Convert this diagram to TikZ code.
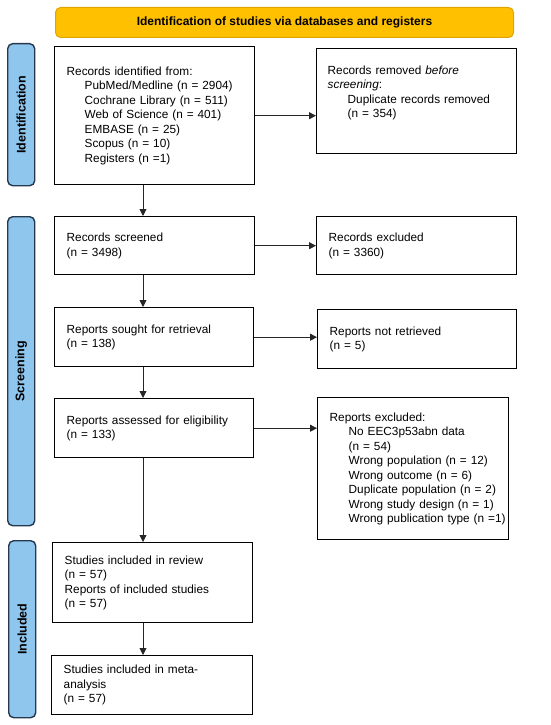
\documentclass[tikz,border=0pt]{standalone}
\usepackage{fontspec}
\setmainfont{Liberation Sans}
\usetikzlibrary{arrows.meta}
\definecolor{hdrfill}{HTML}{FFC000}
\definecolor{hdrdraw}{HTML}{E0A500}
\definecolor{sidefill}{HTML}{8EC6EE}
\definecolor{sidedraw}{HTML}{26384D}
\begin{document}
\begin{tikzpicture}[x=1pt,y=-1pt,
  box/.style={draw=black, line width=1.4pt, rectangle, anchor=north west, align=left,
    inner xsep=12pt, inner ysep=0pt, font=\fontsize{11.8}{14.5}\selectfont},
  sidelab/.style={draw=sidedraw, fill=sidefill, line width=1.4pt, rounded corners=5pt,
    anchor=north west, minimum width=27pt, inner sep=0pt},
  sidetext/.style={rotate=90, font=\bfseries\fontsize{12.5}{14}\selectfont},
  arr/.style={draw=black!85, line width=0.9pt, -{Triangle[length=7pt,width=7pt]}}]
\useasboundingbox (0,0) rectangle (550,725);
% header
\node[draw=hdrdraw, fill=hdrfill, line width=1pt, rounded corners=5pt, anchor=north west,
  minimum width=458pt, minimum height=30pt, inner sep=0pt,
  font=\bfseries\fontsize{12}{14}\selectfont] (hdr) at (55,7)
  {Identification of studies via databases and registers};
% side labels
\node[sidelab, minimum height=142pt] (sid) at (7,43) {};
\node[sidetext] (sidt) at (sid.center) {Identification};
\node[sidelab, minimum height=309pt] (sscr) at (7,216) {};
\node[sidetext] (sscrt) at (sscr.center) {Screening};
\node[sidelab, minimum height=177pt] (sinc) at (8,540) {};
\node[sidetext] (sinct) at (sinc.center) {Included};
% boxes
\node[box, text width=176pt, minimum height=138pt] (ident) at (54,46)
  {Records identified from:\\
   \hspace*{18pt}PubMed/Medline (n = 2904)\\
   \hspace*{18pt}Cochrane Library (n = 511)\\
   \hspace*{18pt}Web of Science (n = 401)\\
   \hspace*{18pt}EMBASE (n = 25)\\
   \hspace*{18pt}Scopus (n = 10)\\
   \hspace*{18pt}Registers (n =1)};
\node[box, text width=178pt, minimum height=105pt, inner xsep=11pt] (removed) at (316,48)
  {Records removed \textit{before}\\
   \textit{screening}:\\
   \hspace*{20pt}Duplicate records removed\\
   \hspace*{20pt}(n = 354)\\
   \strut};
\node[box, text width=176pt, minimum height=58pt] (screened) at (54,216)
  {Records screened\\(n = 3498)};
\node[box, text width=176pt, minimum height=58pt] (excl) at (316,216)
  {Records excluded\\(n = 3360)};
\node[box, text width=175pt, minimum height=59pt] (sought) at (54,307)
  {Reports sought for retrieval\\(n = 138)};
\node[box, text width=175pt, minimum height=59pt] (notret) at (317,309)
  {Reports not retrieved\\(n = 5)};
\node[box, text width=175pt, minimum height=59pt] (assess) at (54,398)
  {Reports assessed for eligibility\\(n = 133)};
\node[box, text width=189pt, minimum height=142pt, inner xsep=1pt] (repexcl) at (317,397)
  {\hspace*{11pt}Reports excluded:\\
   \hspace*{30pt}\mbox{No EEC3p53abn data}\\
   \hspace*{30pt}\mbox{(n = 54)}\\
   \hspace*{30pt}\mbox{Wrong population (n = 12)}\\
   \hspace*{30pt}\mbox{Wrong outcome (n = 6)}\\
   \hspace*{30pt}\mbox{Duplicate population (n = 2)}\\
   \hspace*{30pt}\mbox{Wrong study design (n = 1)}\\
   \hspace*{30pt}\mbox{Wrong publication type (n =1)}};
\node[box, text width=176pt, minimum height=80pt] (incl) at (52,542)
  {Studies included in review\\(n = 57)\\Reports of included studies\\(n = 57)};
\node[box, text width=177pt, minimum height=59pt] (meta) at (51,655)
  {Studies included in meta-\\analysis\\(n = 57)};
% connectors
\coordinate (vx) at (143,0);
\draw[arr] (ident.south -| vx) -- (screened.north -| vx);
\draw[arr] (screened.south -| vx) -- (sought.north -| vx);
\draw[arr] (sought.south -| vx) -- (assess.north -| vx);
\draw[arr] (assess.south -| vx) -- (incl.north -| vx);
\draw[arr] (incl.south -| vx) -- (meta.north -| vx);
\draw[arr] (ident.east) -- (removed.west |- ident.east);
\draw[arr] (screened.east) -- (excl.west |- screened.east);
\draw[arr] (sought.east) -- (notret.west |- sought.east);
\draw[arr] (assess.east) -- (repexcl.west |- assess.east);
\end{tikzpicture}
\end{document}
